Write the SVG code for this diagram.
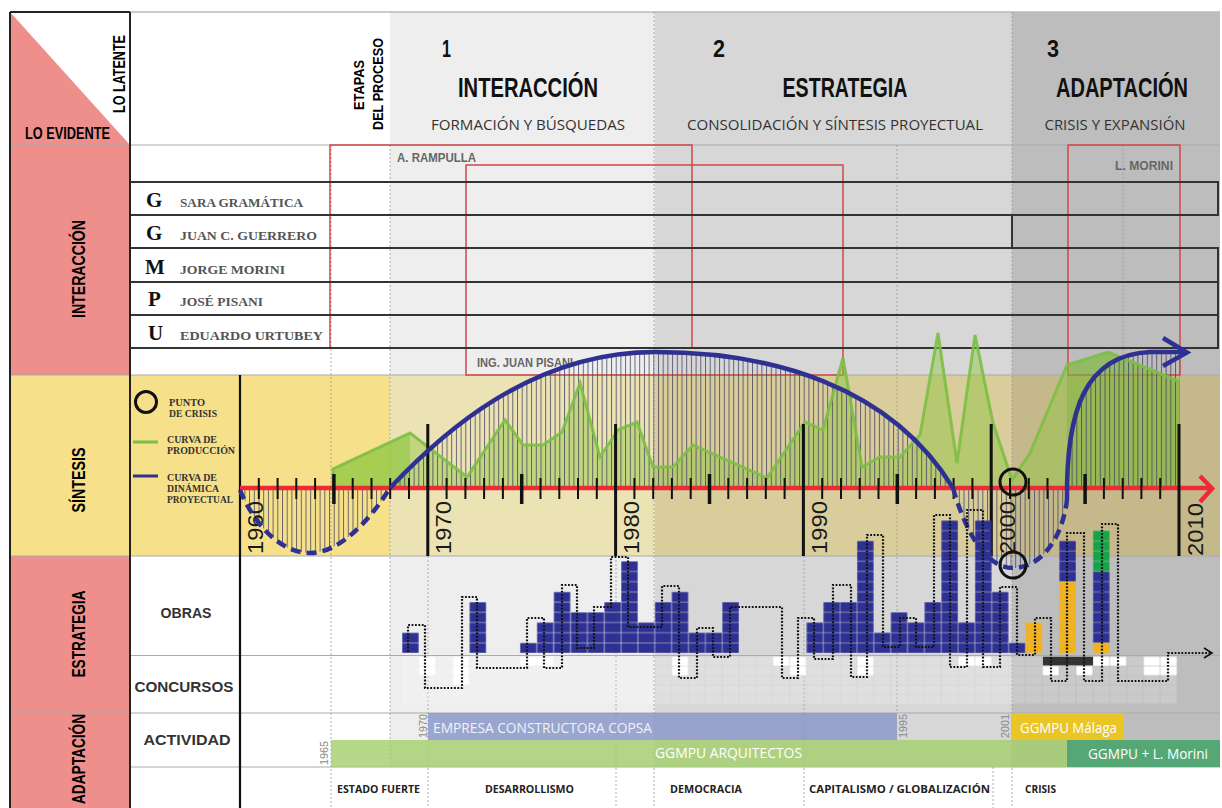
<svg xmlns="http://www.w3.org/2000/svg" width="1222" height="808" viewBox="0 0 1222 808">
<style>
.b{font-family:"Liberation Sans",Arial,sans-serif;font-weight:bold}
.n{font-family:"Liberation Sans",Arial,sans-serif}
.h{font-family:"Open Sans","Liberation Sans",sans-serif}
.hb{font-family:"Open Sans","Liberation Sans",sans-serif;font-weight:bold}
.sep{stroke:#aaa;stroke-width:1}
.dt{stroke:#9a9a9a;stroke-width:0.8;stroke-dasharray:2 2;fill:none}
.rb{fill:none;stroke:#d04848;stroke-width:1.5}
.row{fill:none;stroke:#333;stroke-width:2}
.yr{font-family:"Liberation Sans",Arial,sans-serif;font-size:22px;fill:#1a1a1a}
.sy{font-family:"Liberation Sans",Arial,sans-serif;font-size:10px;fill:#8a8a8a}
.lg{font-family:"Liberation Serif",serif;font-weight:bold;font-size:10.5px;fill:#333}
.nm{font-family:"Liberation Serif",serif;font-weight:bold;font-size:13px;fill:#555}
.ini{font-family:"Liberation Serif",serif;font-weight:bold;font-size:21px;fill:#111}
.cl{font-family:"Liberation Sans",Arial,sans-serif;font-weight:bold;font-size:12px;fill:#666}
</style>
<defs>
<pattern id="pb" patternUnits="userSpaceOnUse" x="402" y="642.8" width="16.85" height="10.2"><rect x="0.3" y="0.3" width="16.3" height="9.7" fill="#2e3192"/></pattern>
<pattern id="po" patternUnits="userSpaceOnUse" x="402" y="642.8" width="16.85" height="10.2"><rect x="0.3" y="0.3" width="16.3" height="9.7" fill="#f2b21b"/></pattern>
<pattern id="pgr" patternUnits="userSpaceOnUse" x="402" y="642.8" width="16.85" height="10.2"><rect x="0.3" y="0.3" width="16.3" height="9.7" fill="#16a349"/></pattern>
<pattern id="pw" patternUnits="userSpaceOnUse" x="402" y="656.5" width="16.85" height="9.5"><rect x="0.4" y="0.4" width="16" height="8.8" fill="#fff"/></pattern>
<pattern id="pg" patternUnits="userSpaceOnUse" x="402" y="656.5" width="16.85" height="9.5"><rect x="0.5" y="0.4" width="15.9" height="8.7" fill="#fff" fill-opacity="0.2"/></pattern>
<pattern id="hatch" patternUnits="userSpaceOnUse" x="0" y="0" width="4.7" height="20"><rect x="0" y="0" width="1" height="20" fill="#44445f" fill-opacity="0.8"/></pattern>
</defs>

<rect width="1222" height="808" fill="#fff"/>

<g id="backgrounds">
<rect x="390" y="12" width="265" height="363" fill="#eeeeee"/>
<rect x="655" y="12" width="357" height="363" fill="#d7d7d7"/>
<rect x="1012" y="12" width="208" height="363" fill="#bdbdbd"/>
<rect x="130" y="375" width="260" height="181" fill="#f6e18a"/>
<rect x="390" y="375" width="265" height="181" fill="#ece3b4"/>
<rect x="655" y="375" width="357" height="181" fill="#d8cd9b"/>
<rect x="1012" y="375" width="208" height="181" fill="#c5b98b"/>
<rect x="390" y="556" width="265" height="211" fill="#eeeeee"/>
<rect x="655" y="556" width="357" height="211" fill="#d7d7d7"/>
<rect x="1012" y="556" width="208" height="211" fill="#bdbdbd"/>
</g>

<g id="left-column">
<rect x="10" y="145" width="120" height="230" fill="#ee8f8c"/>
<rect x="10" y="375" width="120" height="181" fill="#f6e18a"/>
<rect x="10" y="556" width="120" height="252" fill="#ee8f8c"/>
<polygon points="10,12 130,145 10,145" fill="#ee8f8c"/>
<text class="b" font-size="17" text-anchor="middle" textLength="78" lengthAdjust="spacingAndGlyphs" transform="translate(125,74) rotate(-90)">LO LATENTE</text>
<text class="b" font-size="16" x="25" y="139" textLength="85" lengthAdjust="spacingAndGlyphs">LO EVIDENTE</text>
<text class="b" font-size="18" text-anchor="middle" textLength="98" lengthAdjust="spacingAndGlyphs" transform="translate(85,269) rotate(-90)">INTERACCIÓN</text>
<text class="b" font-size="18" text-anchor="middle" textLength="65" lengthAdjust="spacingAndGlyphs" transform="translate(85,480) rotate(-90)">SÍNTESIS</text>
<text class="b" font-size="18" text-anchor="middle" textLength="87" lengthAdjust="spacingAndGlyphs" transform="translate(85,634) rotate(-90)">ESTRATEGIA</text>
<text class="b" font-size="14" text-anchor="middle" textLength="90" lengthAdjust="spacingAndGlyphs" transform="translate(85,759) rotate(-90) scale(1,1.28)">ADAPTACIÓN</text>
</g>

<g id="grid-lines">
<line class="sep" x1="10" y1="145" x2="1220" y2="145"/>
<line class="sep" x1="10" y1="375" x2="1220" y2="375"/>
<line class="sep" x1="10" y1="556" x2="1220" y2="556"/>
<line class="sep" x1="130" y1="655.5" x2="1220" y2="655.5"/>
<line class="sep" x1="10" y1="713" x2="1220" y2="713"/>
<line class="sep" x1="130" y1="767" x2="1220" y2="767"/>
<line x1="130" y1="12" x2="1220" y2="12" stroke="#bbb" stroke-width="1.5"/>
<line class="dt" x1="331" y1="145" x2="331" y2="808"/>
<line class="dt" x1="390" y1="145" x2="390" y2="767"/>
<line class="dt" x1="428" y1="556" x2="428" y2="808"/>
<line class="dt" x1="616" y1="556" x2="616" y2="808"/>
<line class="dt" x1="654" y1="12" x2="654" y2="808"/>
<line class="dt" x1="804" y1="556" x2="804" y2="808"/>
<line class="dt" x1="897" y1="145" x2="897" y2="713"/>
<line class="dt" x1="993" y1="767" x2="993" y2="808"/>
<line class="dt" x1="1012" y1="12" x2="1012" y2="808"/>
<line class="dt" x1="1123" y1="145" x2="1123" y2="375"/>
</g>

<g id="header">
<text class="b" font-size="15" text-anchor="middle" textLength="50" lengthAdjust="spacingAndGlyphs" transform="translate(364,85) rotate(-90)">ETAPAS</text>
<text class="b" font-size="15" text-anchor="middle" textLength="92" lengthAdjust="spacingAndGlyphs" transform="translate(383,84) rotate(-90)">DEL PROCESO</text>
<text class="b" font-size="24" x="442" y="57" textLength="9" lengthAdjust="spacingAndGlyphs" fill="#111">1</text>
<text class="b" font-size="27" x="528" y="97" text-anchor="middle" textLength="140" lengthAdjust="spacingAndGlyphs" fill="#111">INTERACCIÓN</text>
<text class="h" font-size="14" x="528" y="130" text-anchor="middle" textLength="194" lengthAdjust="spacingAndGlyphs" fill="#333">FORMACIÓN Y BÚSQUEDAS</text>
<text class="b" font-size="24" x="713" y="57" textLength="12" lengthAdjust="spacingAndGlyphs" fill="#111">2</text>
<text class="b" font-size="27" x="845" y="97" text-anchor="middle" textLength="125" lengthAdjust="spacingAndGlyphs" fill="#111">ESTRATEGIA</text>
<text class="h" font-size="14" x="835" y="130" text-anchor="middle" textLength="296" lengthAdjust="spacingAndGlyphs" fill="#333">CONSOLIDACIÓN Y SÍNTESIS PROYECTUAL</text>
<text class="b" font-size="24" x="1047" y="57" textLength="12" lengthAdjust="spacingAndGlyphs" fill="#111">3</text>
<text class="b" font-size="25" x="1122" y="97" text-anchor="middle" textLength="132" lengthAdjust="spacingAndGlyphs" fill="#111" transform="translate(0,-9.7) scale(1,1.1)">ADAPTACIÓN</text>
<text class="h" font-size="14" x="1115" y="130" text-anchor="middle" textLength="141" lengthAdjust="spacingAndGlyphs" fill="#333">CRISIS Y EXPANSIÓN</text>
</g>

<g id="interaccion">
<rect class="rb" x="330" y="145" width="362" height="203"/>
<rect class="rb" x="466" y="165" width="377" height="210"/>
<rect class="rb" x="1068" y="145" width="112" height="230"/>
<text class="cl" x="397" y="162" textLength="79" lengthAdjust="spacingAndGlyphs">A. RAMPULLA</text>
<text class="cl" x="477" y="367" textLength="96" lengthAdjust="spacingAndGlyphs">ING. JUAN PISANI</text>
<text class="cl" x="1115" y="170" textLength="58" lengthAdjust="spacingAndGlyphs">L. MORINI</text>
<g id="sara"><rect class="row" x="130" y="182" width="1088" height="33"/><text class="ini" x="146" y="207">G</text><text class="nm" x="180" y="207" textLength="123" lengthAdjust="spacingAndGlyphs">SARA GRAMÁTICA</text></g>
<g id="guerrero"><rect class="row" x="130" y="215" width="882" height="33"/><text class="ini" x="146" y="240">G</text><text class="nm" x="180" y="240" textLength="137" lengthAdjust="spacingAndGlyphs">JUAN C. GUERRERO</text></g>
<g id="morini"><rect class="row" x="130" y="248" width="1088" height="34"/><text class="ini" x="145" y="274">M</text><text class="nm" x="180" y="274" textLength="105" lengthAdjust="spacingAndGlyphs">JORGE MORINI</text></g>
<g id="pisani"><rect class="row" x="130" y="282" width="1088" height="33"/><text class="ini" x="148" y="306">P</text><text class="nm" x="180" y="306" textLength="83" lengthAdjust="spacingAndGlyphs">JOSÉ PISANI</text></g>
<g id="urtubey"><rect class="row" x="130" y="315" width="1088" height="33"/><text class="ini" x="148" y="340">U</text><text class="nm" x="180" y="340" textLength="143" lengthAdjust="spacingAndGlyphs">EDUARDO URTUBEY</text></g>
</g>

<g id="sintesis">
<polygon points="333,488 333,469 410,433 467,477 505,420 523,445 543,445 562,432 580,383 600,457 618,430 637,422 653,467 673,467 693,445 767,478 805,422 823,430 843,358 862,467 880,457 900,457 920,435 938,333 957,463 975,335 993,423 1012,480 1030,453 1067,365 1108,352 1147,368 1180,382 1180,488" fill="#8dc63f" fill-opacity="0.45"/>
<polygon points="333,488 333,469 410,433 410,488" fill="#8dc63f" fill-opacity="0.55"/>
<polygon points="1067,488 1067,365 1108,352 1147,368 1180,382 1180,488" fill="#6fae35" fill-opacity="0.35"/>
<path d="M240,490 C252,520 278,553 310,553 C340,553 370,520 390,488 Z" fill="url(#hatch)"/>
<path d="M390,488 C440,435 530,352 655,352 C770,352 890,385 953,488 Z" fill="url(#hatch)"/>
<path d="M953,488 C965,530 985,568 1013,568 C1040,568 1062,540 1067,500 L1067,488 Z" fill="url(#hatch)"/>
<path d="M1067,488 L1067,500 C1066,410 1085,355 1150,352 L1180,352 L1180,488 Z" fill="url(#hatch)"/>
<polyline points="333,488 333,469 410,433 467,477 505,420 523,445 543,445 562,432 580,383 600,457 618,430 637,422 653,467 673,467 693,445 767,478 805,422 823,430 843,358 862,467 880,457 900,457 920,435 938,333 957,463 975,335 993,423 1012,480 1030,453 1067,365 1108,352 1147,368 1180,382" fill="none" stroke="#7cbf45" stroke-width="3" stroke-opacity="0.9"/>
<line x1="240" y1="375" x2="240" y2="808" stroke="#111" stroke-width="2.2"/>
<line x1="240" y1="488" x2="1209" y2="488" stroke="#ee2a36" stroke-width="4.5"/>
<polyline points="1200,476 1212,488.5 1200,502" fill="none" stroke="#ee2a36" stroke-width="4.5"/>
<path d="M258.8,478V499M277.6,478V499M296.3,478V499M315.1,478V499M352.7,478V499M371.5,478V499M390.2,478V499M409,478V499M446.6,478V499M465.4,478V499M484.1,478V499M502.9,478V499M540.5,478V499M559.3,478V499M578,478V499M596.8,478V499M634.4,478V499M653.2,478V499M671.9,478V499M690.7,478V499M728.3,478V499M747.1,478V499M765.8,478V499M784.6,478V499M822.2,478V499M841,478V499M859.7,478V499M878.5,478V499M916.1,478V499M934.9,478V499M953.6,478V499M972.4,478V499M1010,478V499M1028.8,478V499M1047.5,478V499M1066.3,478V499M1103.9,478V499M1122.7,478V499M1141.4,478V499M1160.2,478V499" stroke="#111" stroke-width="2"/>
<path d="M333.9,474V504M521.7,474V504M709.5,474V504M897.3,474V504M1085.1,474V504" stroke="#111" stroke-width="3.5"/>
<path d="M427.8,424V556M615.6,424V556M803.4,424V556M991.2,424V556M1179,424V556" stroke="#111" stroke-width="3"/>
<text class="yr" textLength="53" lengthAdjust="spacingAndGlyphs" transform="translate(263,554) rotate(-90)">1960</text>
<text class="yr" textLength="53" lengthAdjust="spacingAndGlyphs" transform="translate(451,554) rotate(-90)">1970</text>
<text class="yr" textLength="53" lengthAdjust="spacingAndGlyphs" transform="translate(639,554) rotate(-90)">1980</text>
<text class="yr" textLength="53" lengthAdjust="spacingAndGlyphs" transform="translate(827,554) rotate(-90)">1990</text>
<text class="yr" textLength="53" lengthAdjust="spacingAndGlyphs" transform="translate(1015,554) rotate(-90)">2000</text>
<text class="yr" textLength="53" lengthAdjust="spacingAndGlyphs" transform="translate(1203,556) rotate(-90)">2010</text>
<g id="legend">
<circle cx="146" cy="402" r="10.5" fill="none" stroke="#111" stroke-width="3"/>
<text class="lg" x="169" y="406" textLength="36" lengthAdjust="spacingAndGlyphs">PUNTO</text>
<text class="lg" x="169" y="417" textLength="48" lengthAdjust="spacingAndGlyphs">DE CRISIS</text>
<line x1="133" y1="442" x2="158" y2="442" stroke="#7cbf45" stroke-width="3"/>
<text class="lg" x="167" y="443" textLength="50" lengthAdjust="spacingAndGlyphs">CURVA DE</text>
<text class="lg" x="167" y="454" textLength="68" lengthAdjust="spacingAndGlyphs">PRODUCCIÓN</text>
<line x1="133" y1="476" x2="158" y2="476" stroke="#2e3192" stroke-width="3"/>
<text class="lg" x="167" y="481" textLength="50" lengthAdjust="spacingAndGlyphs">CURVA DE</text>
<text class="lg" x="167" y="492" textLength="52" lengthAdjust="spacingAndGlyphs">DINÁMICA</text>
<text class="lg" x="167" y="503" textLength="66" lengthAdjust="spacingAndGlyphs">PROYECTUAL</text>
</g>
</g>

<g id="estrategia">
<text class="b" font-size="15" x="186" y="618" text-anchor="middle" textLength="51" lengthAdjust="spacingAndGlyphs" fill="#333">OBRAS</text>
<text class="b" font-size="15" x="184" y="692" text-anchor="middle" textLength="99" lengthAdjust="spacingAndGlyphs" fill="#333">CONCURSOS</text>
<rect x="402" y="656.5" width="775" height="47.5" fill="url(#pg)"/>
<g id="concursos" fill="url(#pw)">
<rect x="418.85" y="656.5" width="16.85" height="19"/>
<rect x="452.55" y="656.5" width="16.85" height="28.5"/>
<rect x="519.95" y="656.5" width="33.7" height="9.5"/>
<rect x="671.6" y="656.5" width="16.85" height="19"/>
<rect x="772.7" y="656.5" width="16.85" height="9.5"/>
<rect x="789.55" y="656.5" width="16.85" height="19"/>
<rect x="856.95" y="656.5" width="16.85" height="19"/>
<rect x="958.05" y="656.5" width="33.7" height="9.5"/>
<rect x="1042.3" y="666" width="16.85" height="9.5"/>
<rect x="1076" y="666" width="16.85" height="9.5"/>
<rect x="1092.85" y="656.5" width="33.7" height="9.5"/>
<rect x="1143.4" y="656.5" width="33.7" height="19"/>
</g>
<rect x="1043" y="656.8" width="50" height="8.5" fill="#333"/>
<g id="obras" fill="url(#pb)">
<rect x="402" y="632.6" width="16.85" height="20.4"/>
<rect x="469.4" y="602" width="16.85" height="51"/>
<rect x="519.95" y="642.8" width="16.85" height="10.2"/>
<rect x="536.8" y="622.4" width="16.85" height="30.6"/>
<rect x="553.65" y="591.8" width="16.85" height="61.2"/>
<rect x="570.5" y="612.2" width="33.7" height="40.8"/>
<rect x="604.2" y="602" width="16.85" height="51"/>
<rect x="621.05" y="561.2" width="16.85" height="91.8"/>
<rect x="637.9" y="622.4" width="16.85" height="30.6"/>
<rect x="654.75" y="602" width="16.85" height="51"/>
<rect x="671.6" y="591.8" width="16.85" height="61.2"/>
<rect x="688.45" y="632.6" width="33.7" height="20.4"/>
<rect x="722.15" y="602" width="16.85" height="51"/>
<rect x="806.4" y="622.4" width="16.85" height="30.6"/>
<rect x="823.25" y="602" width="33.7" height="51"/>
<rect x="856.95" y="540.8" width="16.85" height="112.2"/>
<rect x="873.8" y="632.6" width="16.85" height="20.4"/>
<rect x="890.65" y="612.2" width="16.85" height="40.8"/>
<rect x="907.5" y="622.4" width="16.85" height="30.6"/>
<rect x="924.35" y="602" width="16.85" height="51"/>
<rect x="941.2" y="520.4" width="16.85" height="132.6"/>
<rect x="958.05" y="622.4" width="16.85" height="30.6"/>
<rect x="974.9" y="520.4" width="16.85" height="132.6"/>
<rect x="991.75" y="591.8" width="16.85" height="61.2"/>
<rect x="1008.6" y="642.8" width="16.85" height="10.2"/>
<rect x="1059.15" y="540.8" width="16.85" height="40.8"/>
<rect x="1092.85" y="571.4" width="16.85" height="71.4"/>
</g>
<g id="obras-malaga" fill="url(#po)">
<rect x="1025.45" y="622.4" width="16.85" height="30.6"/>
<rect x="1059.15" y="581.6" width="16.85" height="71.4"/>
<rect x="1092.85" y="642.8" width="16.85" height="10.2"/>
</g>
<rect x="1092.85" y="530.6" width="16.85" height="40.8" fill="url(#pgr)"/>
</g>

<g id="connectors">
<path d="M240,490 C252,520 278,553 310,553 C340,553 370,520 390,488" fill="none" stroke="#2e3192" stroke-width="4.5" stroke-dasharray="10 6"/>
<path d="M390,488 C440,435 530,352 655,352 C770,352 890,385 953,488" fill="none" stroke="#2e3192" stroke-width="4.5"/>
<path d="M953,488 C965,530 985,568 1013,568 C1040,568 1062,540 1067,500" fill="none" stroke="#2e3192" stroke-width="4.5" stroke-dasharray="10 6"/>
<path d="M1067,500 C1066,410 1085,355 1150,352 L1186,352" fill="none" stroke="#2e3192" stroke-width="4.5"/>
<polyline points="1163,338 1187,352.5 1163,366" fill="none" stroke="#2e3192" stroke-width="4.5"/>
<circle cx="1013" cy="482" r="13" fill="none" stroke="#111" stroke-width="3"/>
<circle cx="1013" cy="565" r="13" fill="none" stroke="#111" stroke-width="3"/>
<path d="M408,652 V625 H425 V688 H462 V597 H477 V668 H527 V618 H544 V668 H562 V585 H577 V648 H594 V607 H611 V557 H628 V627 H662 V586 H679 V678 H697 V628 H713 V657 H730 V607 H782 V678 H798 V618 H814 V659 H833 V585 H851 V677 H867 V535 H883 V647 H900 V618 H916 V647 H934 V515 H950 V667 H967 V510 H983 V667 H1000 V587 H1017 V655 H1035 V618 H1051 V681 H1067 V533 H1084 V681 H1102 V524 H1118 V681 H1168 V653 H1210" fill="none" stroke="#111" stroke-width="2.2" stroke-dasharray="1.8 1.6"/>
<polyline points="1204,648 1212,653 1204,658" fill="none" stroke="#111" stroke-width="1.6"/>
</g>

<g id="adaptacion">
<text class="b" font-size="15" x="187" y="745" text-anchor="middle" textLength="87" lengthAdjust="spacingAndGlyphs" fill="#333">ACTIVIDAD</text>
<rect x="428" y="713" width="469" height="27" fill="#8c99c9" fill-opacity="0.85"/>
<rect x="1011" y="713" width="112" height="27" fill="#e9c525"/>
<rect x="331" y="740" width="736" height="27" fill="#a3cf6c" fill-opacity="0.8"/>
<rect x="1067" y="740" width="153" height="27" fill="#55a875"/>
<text class="h" font-size="15" x="433" y="733" textLength="219" lengthAdjust="spacingAndGlyphs" fill="#f0f2fa">EMPRESA CONSTRUCTORA COPSA</text>
<text class="h" font-size="15" x="655" y="758" textLength="147" lengthAdjust="spacingAndGlyphs" fill="#fff">GGMPU ARQUITECTOS</text>
<text class="h" font-size="15" x="1020" y="733" textLength="97" lengthAdjust="spacingAndGlyphs" fill="#fff">GGMPU Málaga</text>
<text class="h" font-size="15" x="1088" y="759" textLength="120" lengthAdjust="spacingAndGlyphs" fill="#fff">GGMPU + L. Morini</text>
<text class="sy" textLength="24" lengthAdjust="spacingAndGlyphs" transform="translate(427,738) rotate(-90)">1970</text>
<text class="sy" textLength="24" lengthAdjust="spacingAndGlyphs" transform="translate(328,765) rotate(-90)">1965</text>
<text class="sy" textLength="24" lengthAdjust="spacingAndGlyphs" transform="translate(907,738) rotate(-90)">1995</text>
<text class="sy" textLength="24" lengthAdjust="spacingAndGlyphs" transform="translate(1009,738) rotate(-90)">2001</text>
<text class="hb" font-size="10" x="337" y="793" textLength="83" lengthAdjust="spacingAndGlyphs" fill="#222">ESTADO FUERTE</text>
<text class="hb" font-size="10" x="485" y="793" textLength="89" lengthAdjust="spacingAndGlyphs" fill="#222">DESARROLLISMO</text>
<text class="hb" font-size="10" x="670" y="793" textLength="72" lengthAdjust="spacingAndGlyphs" fill="#222">DEMOCRACIA</text>
<text class="hb" font-size="10" x="809" y="793" textLength="181" lengthAdjust="spacingAndGlyphs" fill="#222">CAPITALISMO  /  GLOBALIZACIÓN</text>
<text class="hb" font-size="10" x="1025" y="793" textLength="31" lengthAdjust="spacingAndGlyphs" fill="#222">CRISIS</text>
</g>

<g id="frame">
<line x1="10" y1="12" x2="130" y2="12" stroke="#222" stroke-width="2"/>
<line x1="10" y1="12" x2="10" y2="808" stroke="#222" stroke-width="2"/>
<line x1="130" y1="12" x2="130" y2="808" stroke="#222" stroke-width="2"/>
</g>
</svg>
